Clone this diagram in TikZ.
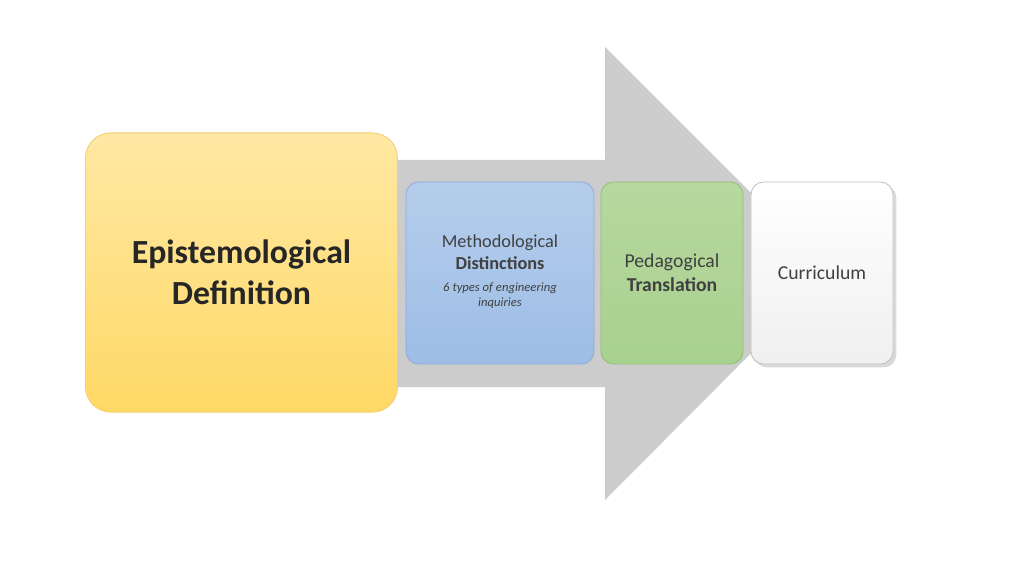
\documentclass[tikz,border=0pt]{standalone}
\usepackage{fontspec}
\setmainfont{Carlito}
\usetikzlibrary{positioning,shadows}

\definecolor{arrowgray}{HTML}{CCCCCC}
\definecolor{episfill}{HTML}{FFD966}
\definecolor{episline}{HTML}{F4CF6E}
\definecolor{methfill}{HTML}{9DBDE6}
\definecolor{methline}{HTML}{8EAAD6}
\definecolor{pedafill}{HTML}{A9D18E}
\definecolor{pedaline}{HTML}{94BE78}
\definecolor{textgray}{HTML}{404040}

\tikzset{
  stagebox/.style={rounded corners=9pt, draw, line width=0.6pt, align=center,
    text=textgray, inner sep=2pt},
}

\begin{document}
\begin{tikzpicture}[x=0.025cm, y=-0.025cm]
          % Canvas
          \useasboundingbox (0,0) rectangle (1024,576);

          % Big arrow behind the boxes
          \fill[arrowgray] (385,160) -- (605,160) -- (605,47) -- (831,273)
                -- (605,500) -- (605,387) -- (385,387) -- cycle;

          % Stage boxes
          \node[stagebox, rounded corners=18pt, draw=episline,
                top color=episfill!60, bottom color=episfill,
                minimum width=7.8cm, minimum height=6.98cm,
                font=\bfseries\fontsize{24}{29}\selectfont, text=black!85]
                (epis) at (241.5,272.5) {Epistemological\\Definition};
          \node[stagebox, draw=methline,
                top color=methfill!75, bottom color=methfill,
                minimum width=4.7cm, minimum height=4.55cm]
                (meth) at (500,273) {};
          \node[stagebox, draw=pedaline,
                top color=pedafill!85, bottom color=pedafill,
                minimum width=3.55cm, minimum height=4.55cm,
                font=\fontsize{14}{17}\selectfont]
                (peda) at (672,273) {Pedagogical\\\textbf{Translation}};
          \node[stagebox, draw=black!25, fill=white, drop shadow={opacity=0.3},
                top color=white, bottom color=black!6,
                minimum width=3.55cm, minimum height=4.55cm,
                font=\fontsize{14}{17}\selectfont]
                (curr) at (822,273) {Curriculum};

          % Texts of the blue box
          \node[align=center, text=textgray, font=\fontsize{13}{16}\selectfont]
                (methtitle) at (500,252) {Methodological\\\textbf{Distinctions}};
          \node[align=center, text=textgray, font=\itshape\fontsize{9}{11}\selectfont,
                below=2pt of methtitle] (methnote) {6 types of engineering\\inquiries};
\end{tikzpicture}
\end{document}
